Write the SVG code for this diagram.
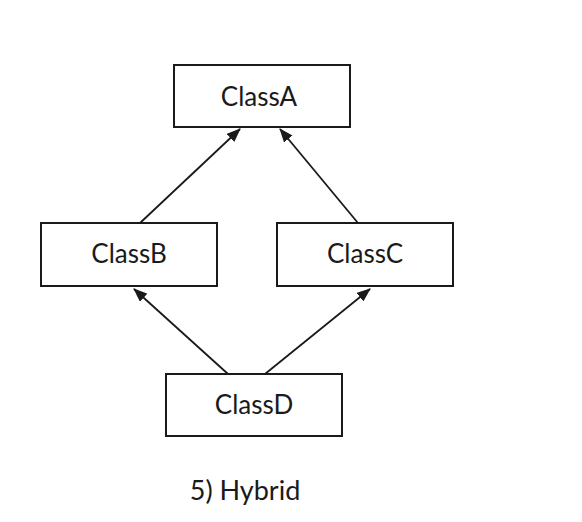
<svg xmlns="http://www.w3.org/2000/svg" width="582" height="522" viewBox="0 0 582 522">
<defs>
<style>
.box{fill:#fff;stroke:#1a1a1a;stroke-width:2}
.lbl{font-family:Lato,"Open Sans","Liberation Sans",sans-serif;font-size:26px;fill:#1a1a1a;text-anchor:middle}
.cap{font-size:27px}
.edge{stroke:#1a1a1a;stroke-width:1.8;fill:none;marker-end:url(#arr)}
</style>
<marker id="arr" viewBox="0 0 14 11" refX="13" refY="5.5" markerWidth="14" markerHeight="11" markerUnits="userSpaceOnUse" orient="auto">
<path d="M0,0 L14,5.5 L0,11 Z" fill="#1a1a1a"/>
</marker>
</defs>
<rect width="582" height="522" fill="#fff"/>
<g id="connectors">
<line class="edge" x1="140" y1="223" x2="240" y2="129"/>
<line class="edge" x1="358" y1="223" x2="280" y2="129"/>
<line class="edge" x1="228" y1="374" x2="134" y2="289"/>
<line class="edge" x1="265" y1="374" x2="370" y2="289"/>
</g>
<g id="ClassA"><rect class="box" x="174" y="65" width="176" height="62"/><text class="lbl" x="259" y="106">ClassA</text></g>
<g id="ClassB"><rect class="box" x="41" y="223" width="176" height="63"/><text class="lbl" x="129" y="263">ClassB</text></g>
<g id="ClassC"><rect class="box" x="277" y="223" width="176" height="63"/><text class="lbl" x="365" y="263">ClassC</text></g>
<g id="ClassD"><rect class="box" x="166" y="374" width="176" height="62"/><text class="lbl" x="254" y="414">ClassD</text></g>
<text id="caption" class="lbl cap" x="245" y="500">5) Hybrid</text>
</svg>
